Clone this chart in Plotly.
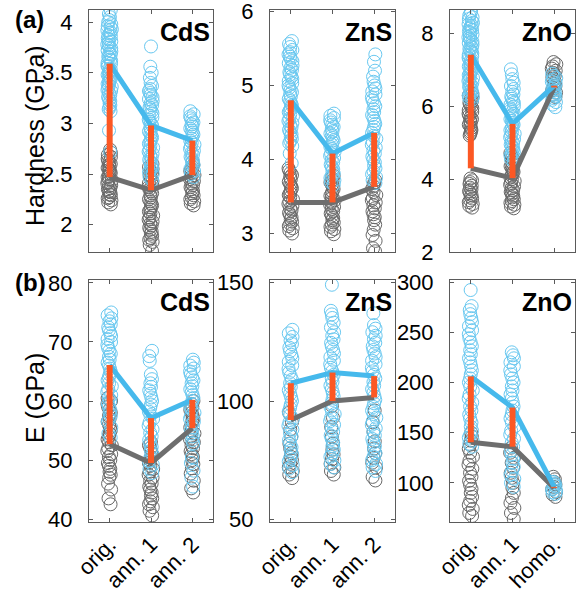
import plotly.graph_objects as go

W, H = 580, 595

cats_a = ["orig.", "ann. 1", "ann. 2"]
cats_b = ["orig.", "ann. 1", "homo."]

# ---- (a) Hardness, CdS ----
cds_h_blue = [
    [4.12, 4.08, 4.05, 4.02, 4.0, 3.98, 3.96, 3.95, 3.93, 3.92, 3.9, 3.89, 3.87, 3.86, 3.84, 3.83, 3.81, 3.8, 3.78,
     3.77, 3.75, 3.74, 3.72, 3.71, 3.69, 3.68, 3.66, 3.65, 3.63, 3.62, 3.6, 3.59, 3.57, 3.56, 3.54, 3.53, 3.51, 3.5,
     3.48, 3.47, 3.45, 3.44, 3.42, 3.41, 3.39, 3.38, 3.36, 3.35, 3.33, 3.32, 3.3, 3.28, 3.26, 3.24, 3.22, 3.2, 3.18,
     3.16, 3.14, 3.12, 2.93, 2.72],
    [3.76, 3.56, 3.5, 3.45, 3.4, 3.37, 3.34, 3.32, 3.3, 3.28, 3.26, 3.24, 3.22, 3.2, 3.18, 3.16, 3.14, 3.12, 3.1,
     3.08, 3.06, 3.04, 3.02, 3.0, 2.98, 2.96, 2.94, 2.92, 2.9, 2.88, 2.86, 2.84, 2.82, 2.8, 2.78, 2.76, 2.74, 2.72,
     2.7, 2.68, 2.66, 2.64, 2.62, 2.6, 2.58, 2.56, 2.54, 2.52, 2.5, 2.47, 2.44],
    [3.12, 3.09, 3.07, 3.05, 3.03, 3.01, 2.99, 2.97, 2.95, 2.93, 2.91, 2.89, 2.87, 2.85, 2.83, 2.81, 2.79, 2.77,
     2.75, 2.73, 2.71, 2.69, 2.67, 2.65, 2.63, 2.61, 2.59, 2.57, 2.55, 2.53, 2.5, 2.47],
]
cds_h_gray = [
    [2.74, 2.71, 2.69, 2.67, 2.65, 2.63, 2.62, 2.6, 2.59, 2.57, 2.56, 2.54, 2.53, 2.51, 2.5, 2.48, 2.47, 2.45, 2.44,
     2.42, 2.41, 2.39, 2.38, 2.36, 2.35, 2.33, 2.32, 2.3, 2.29, 2.27, 2.26, 2.24, 2.22, 2.2],
    [2.6, 2.57, 2.55, 2.53, 2.51, 2.49, 2.47, 2.45, 2.43, 2.41, 2.39, 2.37, 2.35, 2.33, 2.31, 2.29, 2.27, 2.25,
     2.23, 2.21, 2.19, 2.17, 2.15, 2.13, 2.11, 2.09, 2.07, 2.05, 2.03, 2.01, 1.99, 1.97, 1.95, 1.93, 1.91, 1.89,
     1.87, 1.85, 1.83, 1.8, 1.74],
    [2.62, 2.59, 2.57, 2.55, 2.53, 2.51, 2.49, 2.47, 2.45, 2.43, 2.41, 2.39, 2.37, 2.35, 2.33, 2.31, 2.29, 2.27,
     2.25, 2.23, 2.21, 2.19],
]
cds_h_blue_mean = [3.59, 2.98, 2.83]
cds_h_gray_mean = [2.47, 2.34, 2.49]

# ---- (a) Hardness, ZnS ----
zns_h_blue = [
    [5.6, 5.56, 5.52, 5.48, 5.45, 5.42, 5.39, 5.36, 5.33, 5.3, 5.27, 5.24, 5.21, 5.18, 5.15, 5.12, 5.09, 5.06, 5.03,
     5.0, 4.97, 4.94, 4.91, 4.88, 4.85, 4.82, 4.79, 4.76, 4.73, 4.7, 4.67, 4.64, 4.61, 4.58, 4.55, 4.52, 4.49,
     4.46, 4.43, 4.4, 4.37, 4.34, 4.31, 4.28, 4.25, 4.22, 4.18, 4.08, 3.95],
    [4.62, 4.59, 4.56, 4.53, 4.5, 4.47, 4.44, 4.41, 4.38, 4.35, 4.32, 4.29, 4.26, 4.23, 4.2, 4.17, 4.14, 4.11, 4.08,
     4.05, 4.02, 3.99, 3.96, 3.93, 3.9, 3.87, 3.84, 3.81, 3.78, 3.75, 3.72, 3.69, 3.66],
    [5.42, 5.32, 5.2, 5.12, 5.05, 5.0, 4.96, 4.92, 4.88, 4.84, 4.8, 4.76, 4.72, 4.68, 4.64, 4.6, 4.56, 4.52, 4.48,
     4.44, 4.4, 4.36, 4.32, 4.28, 4.24, 4.2, 4.16, 4.12, 4.08, 4.04, 4.0, 3.96, 3.92, 3.88, 3.84, 3.8, 3.76, 3.72,
     3.68],
]
zns_h_gray = [
    [3.88, 3.85, 3.82, 3.79, 3.76, 3.73, 3.7, 3.67, 3.64, 3.61, 3.58, 3.55, 3.52, 3.49, 3.46, 3.43, 3.4, 3.37,
     3.34, 3.31, 3.28, 3.25, 3.22, 3.19, 3.16, 3.13, 3.1, 3.07, 3.04, 3.0],
    [3.78, 3.75, 3.72, 3.69, 3.66, 3.63, 3.6, 3.57, 3.54, 3.51, 3.48, 3.45, 3.42, 3.39, 3.36, 3.33, 3.3, 3.27,
     3.24, 3.21, 3.18, 3.15, 3.12, 3.09, 3.06, 3.03, 2.99],
    [3.72, 3.68, 3.64, 3.6, 3.56, 3.52, 3.48, 3.45, 3.42, 3.38, 3.34, 3.3, 3.26, 3.22, 3.18, 3.12, 3.05, 2.98,
     2.9, 2.8, 2.76],
]
zns_h_blue_mean = [4.8, 4.08, 4.36]
zns_h_gray_mean = [3.42, 3.42, 3.63]

# ---- (a) Hardness, ZnO ----
zno_h_blue = [
    [8.62, 8.56, 8.5, 8.45, 8.4, 8.35, 8.3, 8.26, 8.22, 8.18, 8.14, 8.1, 8.06, 8.02, 7.98, 7.94, 7.9, 7.86, 7.82,
     7.78, 7.74, 7.7, 7.66, 7.62, 7.58, 7.54, 7.5, 7.46, 7.42, 7.38, 7.34, 7.3, 7.26, 7.22, 7.18, 7.14, 7.1, 7.06,
     7.02, 6.98, 6.94, 6.9, 6.86, 6.82, 6.78, 6.74, 6.7, 6.66, 6.62, 6.58, 6.54, 6.5, 6.46, 6.42, 6.38, 6.34, 6.3,
     6.26, 6.22, 6.18],
    [7.02, 6.88, 6.75, 6.65, 6.56, 6.48, 6.4, 6.33, 6.27, 6.21, 6.15, 6.1, 6.05, 6.0, 5.95, 5.9, 5.85, 5.8, 5.75,
     5.7, 5.65, 5.6, 5.55, 5.5, 5.45, 5.4, 5.35, 5.3, 5.25, 5.2, 5.15, 5.1, 5.05, 5.0, 4.95, 4.9, 4.85, 4.8, 4.75,
     4.7, 4.65, 4.6, 4.55, 4.5],
    [6.9, 6.84, 6.78, 6.73, 6.68, 6.63, 6.58, 6.53, 6.48, 6.43, 6.38, 6.33, 6.28, 6.23, 6.18, 6.12, 6.05, 5.98],
]
zno_h_gray = [
    [6.35, 6.3, 6.25, 6.2, 6.15, 6.1, 6.05, 6.0, 5.95, 5.9, 5.85, 5.8, 5.75, 5.7, 5.65, 5.6, 5.55, 5.5, 5.45, 5.4,
     5.35, 5.3, 5.25, 5.2, 4.02, 3.97, 3.92, 3.87, 3.82, 3.77, 3.72, 3.67, 3.62, 3.57, 3.52, 3.47, 3.42, 3.37,
     3.32, 3.27, 3.22],
    [4.72, 4.66, 4.6, 4.54, 4.48, 4.42, 4.36, 4.3, 4.25, 4.2, 4.15, 4.1, 4.05, 4.0, 3.95, 3.9, 3.85, 3.8, 3.75,
     3.7, 3.65, 3.6, 3.55, 3.5, 3.45, 3.4, 3.35, 3.3, 3.25, 3.2],
    [7.22, 7.16, 7.1, 7.04, 6.98, 6.92, 6.86, 6.8, 6.74, 6.68, 6.62, 6.56, 6.5, 6.44, 6.38, 6.32, 6.26],
]
zno_h_blue_mean = [7.42, 5.52, 6.57]
zno_h_gray_mean = [4.3, 4.03, 6.52]

# ---- (b) E, CdS ----
cds_e_blue = [
    [75, 74.5, 74, 73.5, 73, 72.5, 72, 71.5, 71, 70.5, 70, 69.5, 69, 68.5, 68, 67.5, 67, 66.5, 66, 65.5, 65, 64.5,
     64, 63.5, 63, 62.5, 62, 61.5, 61, 60.5, 60, 59.5, 59, 58.5, 58, 57.5, 57, 56.5, 55.5, 54.5, 53.8],
    [68.5, 67.6, 66.8, 64.5, 63.7, 63, 62.4, 61.8, 61.2, 60.6, 60, 59.4, 58.8, 58.2, 57.6, 57, 56.4, 55.8, 55.2,
     54.6, 54, 53.4, 52.8, 52.2, 51.6, 51, 50.4, 49.8, 49.2, 48.5, 47.8],
    [67, 66.5, 66, 65.5, 65, 64.5, 64, 63.5, 63, 62.5, 62, 61.5, 61, 60.5, 60, 59.5, 59, 58.5, 58, 57.5, 57, 56.5,
     56, 55.5, 55, 54.5, 54, 53.4, 52.8, 50.5, 49.5, 48.2, 47, 45.5],
]
cds_e_gray = [
    [60.5, 60, 59.5, 59, 58.5, 58, 57.5, 57, 56.5, 56, 55.5, 55, 54.5, 54, 53.5, 53, 52.5, 52, 51.5, 51, 50.5, 50,
     49.5, 49, 48.5, 48, 47.5, 47, 46, 45, 43.5, 42.5],
    [53, 52.5, 52, 51.5, 51, 50.5, 50, 49.5, 49, 48.5, 48, 47.5, 47, 46.5, 46, 45.5, 45, 44.5, 44, 43.5, 43, 42.5,
     42, 41.4, 40.6],
    [60, 59.5, 59, 58.5, 58, 57.5, 57, 56.5, 56, 55.5, 55, 54.5, 54, 53.5, 53, 52.5, 52, 51.5, 51, 50.5, 50, 49.3,
     48.6, 47.7, 46.5, 45.2, 44.5],
]
cds_e_blue_mean = [66.1, 57.1, 60.2]
cds_e_gray_mean = [52.7, 49.5, 55.4]

# ---- (b) E, ZnS ----
zns_e_blue = [
    [130, 128.5, 127, 125.5, 124, 122.5, 121, 119.5, 118, 116.5, 115, 113.5, 112, 110.5, 109, 107.5, 106, 104.5,
     103, 101.5, 100, 98.5, 97, 95.5, 94, 92.5, 91, 89.5, 88, 86.5, 85, 83.5, 82, 80.5, 79, 77.5, 76, 74.5, 73,
     71.5, 70],
    [149, 138, 136.5, 135, 133, 131, 129, 127.5, 126, 124.5, 123, 121.5, 120, 118.5, 117, 115.5, 114, 112.5, 111,
     109.5, 108, 106.5, 105, 103.5, 102, 100.5, 99, 97.5, 96, 94.5, 93, 91.5, 90, 88.5, 87, 85.5, 84, 82.5, 81,
     79.5, 78, 76.5, 75, 73.5, 72],
    [137, 132, 130.5, 129, 127.5, 126, 124.5, 123, 121.5, 120, 118.5, 117, 115.5, 114, 112.5, 111, 109.5, 108,
     106.5, 105, 103.5, 102, 100.5, 99, 97.5, 96, 94.5, 93, 91.5, 90, 88.5, 87, 85.5, 84, 82.5, 81, 79.5, 78,
     76.5, 75, 73.5, 72, 70.5],
]
zns_e_gray = [
    [95, 91, 88, 85, 82, 80, 78, 76.5, 75, 73.5, 72, 70.5, 69, 67.5],
    [98, 93, 89, 85, 82, 79.5, 77.5, 75.5, 73.5, 72, 70.5, 69],
    [96, 91, 87, 83, 80, 78, 76, 74, 72, 68, 66.5],
]
zns_e_blue_mean = [107.5, 112, 110.5]
zns_e_gray_mean = [92, 100, 101.5]

# ---- (b) E, ZnO ----
zno_e_blue = [
    [292, 276, 272, 268, 264, 260, 256, 252, 248, 244, 240, 236, 232, 228, 224, 220, 216, 212, 208, 204, 200, 196,
     192, 188, 184, 180, 176, 172, 168, 164, 160, 156, 152, 148, 145, 142, 139, 136],
    [230, 227, 224, 220, 216, 212, 208, 204, 200, 196, 192, 188, 184, 180, 176, 172, 168, 164, 160, 156, 152, 148,
     144, 140, 136, 132, 128, 124, 120, 116, 112, 108, 104, 100, 96],
    [101, 99.5, 98, 96.5, 95, 93.5, 92, 90.5, 89],
]
zno_e_gray = [
    [150, 146, 142, 138, 134, 130, 126, 122, 118, 114, 110, 106, 102, 98, 94, 90, 86, 82, 78, 74, 70, 67],
    [135, 130, 125, 120, 115, 110, 105, 100, 95, 90, 85, 80, 75, 70, 64],
    [106, 103.5, 101, 98.5, 96, 93.5, 91, 88.5, 86],
]
zno_e_blue_mean = [206, 175, 96]
zno_e_gray_mean = [140.5, 136, 95]

panel_names = ["CdS", "ZnS", "ZnO", "CdS", "ZnS", "ZnO"]
y_ticks = [
    [2, 2.5, 3, 3.5, 4],
    [3, 4, 5, 6],
    [2, 4, 6, 8],
    [40, 50, 60, 70, 80],
    [50, 100, 150],
    [100, 150, 200, 250, 300],
]
y_ranges = [[1.73, 4.12], [2.75, 6.02], [2.0, 8.65], [39.5, 80.5], [49.0, 151.0], [61.0, 302.0]]

panels = [
    (cats_a, cds_h_blue, cds_h_gray, cds_h_blue_mean, cds_h_gray_mean),
    (cats_a, zns_h_blue, zns_h_gray, zns_h_blue_mean, zns_h_gray_mean),
    (cats_b, zno_h_blue, zno_h_gray, zno_h_blue_mean, zno_h_gray_mean),
    (cats_a, cds_e_blue, cds_e_gray, cds_e_blue_mean, cds_e_gray_mean),
    (cats_a, zns_e_blue, zns_e_gray, zns_e_blue_mean, zns_e_gray_mean),
    (cats_b, zno_e_blue, zno_e_gray, zno_e_blue_mean, zno_e_gray_mean),
]

# ---- styling ----
BLUE_PT = "rgb(105,200,240)"
BLUE_LN = "rgb(70,185,236)"
GRAY_PT = "rgb(105,105,105)"
GRAY_LN = "rgb(110,110,110)"
ORANGE = "rgb(252,88,36)"
FONT = "Arial, Liberation Sans, sans-serif"
CLEAR = "rgba(0,0,0,0)"

# axes boxes in page pixels
x_px = [(89, 213), (270, 395), (450, 575)]
y_px = [(10, 252), (280, 522)]


def px_x(p):
    return p / W


def px_y(p):
    return 1 - p / H


def strip(cat, vals, color, xa, ya):
    # sample points with a little library jitter; the box itself is invisible
    return go.Box(x=[cat] * len(vals), y=vals, xaxis=xa, yaxis=ya, boxpoints="all", jitter=0.24, pointpos=0,
                  fillcolor=CLEAR, line=dict(color=CLEAR, width=0), whiskerwidth=0,
                  marker=dict(symbol="circle-open", size=13, color=color, line=dict(width=1, color=color)),
                  hoverinfo="y")


fig = go.Figure()
layout = dict(
    width=W, height=H, margin=dict(l=0, r=0, t=0, b=0, autoexpand=False),
    paper_bgcolor="white", plot_bgcolor="white", showlegend=False, boxmode="overlay",
    font=dict(family=FONT, size=21, color="black"),
)
annotations = []

for i, (cats, blue, gray, bmean, gmean) in enumerate(panels):
    row, col = divmod(i, 3)
    xa = "x" if i == 0 else f"x{i+1}"
    ya = "y" if i == 0 else f"y{i+1}"
    for c, vals in zip(cats, gray):
        fig.add_trace(strip(c, vals, GRAY_PT, xa, ya))
    for c, vals in zip(cats, blue):
        fig.add_trace(strip(c, vals, BLUE_PT, xa, ya))
    fig.add_trace(go.Scatter(x=cats, y=gmean, mode="lines", xaxis=xa, yaxis=ya,
                             line=dict(color=GRAY_LN, width=5)))
    fig.add_trace(go.Scatter(x=cats, y=bmean, mode="lines", xaxis=xa, yaxis=ya,
                             line=dict(color=BLUE_LN, width=5)))
    bx, by = [], []
    for c, g, b in zip(cats, gmean, bmean):
        bx += [c, c, None]
        by += [g, b, None]
    fig.add_trace(go.Scatter(x=bx, y=by, mode="lines", xaxis=xa, yaxis=ya,
                             line=dict(color=ORANGE, width=6)))

    x0, x1 = x_px[col]
    y0, y1 = y_px[row]
    axis_common = dict(showline=True, linecolor="#5a5a5a", linewidth=1, mirror="ticks", automargin=False,
                       ticks="inside", ticklen=4, tickcolor="#5a5a5a", showgrid=False, zeroline=False,
                       ticklabeloverflow="allow")
    layout["xaxis" if i == 0 else f"xaxis{i+1}"] = dict(
        axis_common, domain=[px_x(x0), px_x(x1)], anchor=ya, type="category",
        categoryorder="array", categoryarray=cats, range=[-0.5, 2.5],
        showticklabels=(row == 1), tickangle=-45, tickfont=dict(size=22),
    )
    layout["yaxis" if i == 0 else f"yaxis{i+1}"] = dict(
        axis_common, domain=[px_y(y1), px_y(y0)], anchor=xa, range=y_ranges[i],
        tickvals=y_ticks[i], ticktext=[f"{v:g}" for v in y_ticks[i]], tickfont=dict(size=22),
        ticklabelstandoff=11,
    )
    annotations.append(dict(text=f"<b>{panel_names[i]}</b>", xref="paper", yref="paper",
                            x=px_x(x1 - 1), y=px_y(y0 + 22), xanchor="right", yanchor="middle",
                            showarrow=False, font=dict(size=25, color="black")))

annotations += [
    dict(text="<b>(a)</b>", xref="paper", yref="paper", x=px_x(13), y=px_y(20),
         xanchor="left", yanchor="middle", showarrow=False, font=dict(size=24)),
    dict(text="<b>(b)</b>", xref="paper", yref="paper", x=px_x(13), y=px_y(282),
         xanchor="left", yanchor="middle", showarrow=False, font=dict(size=24)),
    dict(text="Hardness (GPa)", xref="paper", yref="paper", x=px_x(35), y=px_y(136),
         xanchor="center", yanchor="middle", textangle=-90, showarrow=False, font=dict(size=25)),
    dict(text="E (GPa)", xref="paper", yref="paper", x=px_x(35), y=px_y(398),
         xanchor="center", yanchor="middle", textangle=-90, showarrow=False, font=dict(size=25)),
]
layout["annotations"] = annotations
fig.update_layout(**layout)
fig.update_xaxes(tickangle=-45)
# remove the default 8 px page margin so the 580x595 figure fills the window exactly
fig.write_html("out.html",
               post_script="document.body.style.margin='0';document.body.style.overflow='hidden';")
